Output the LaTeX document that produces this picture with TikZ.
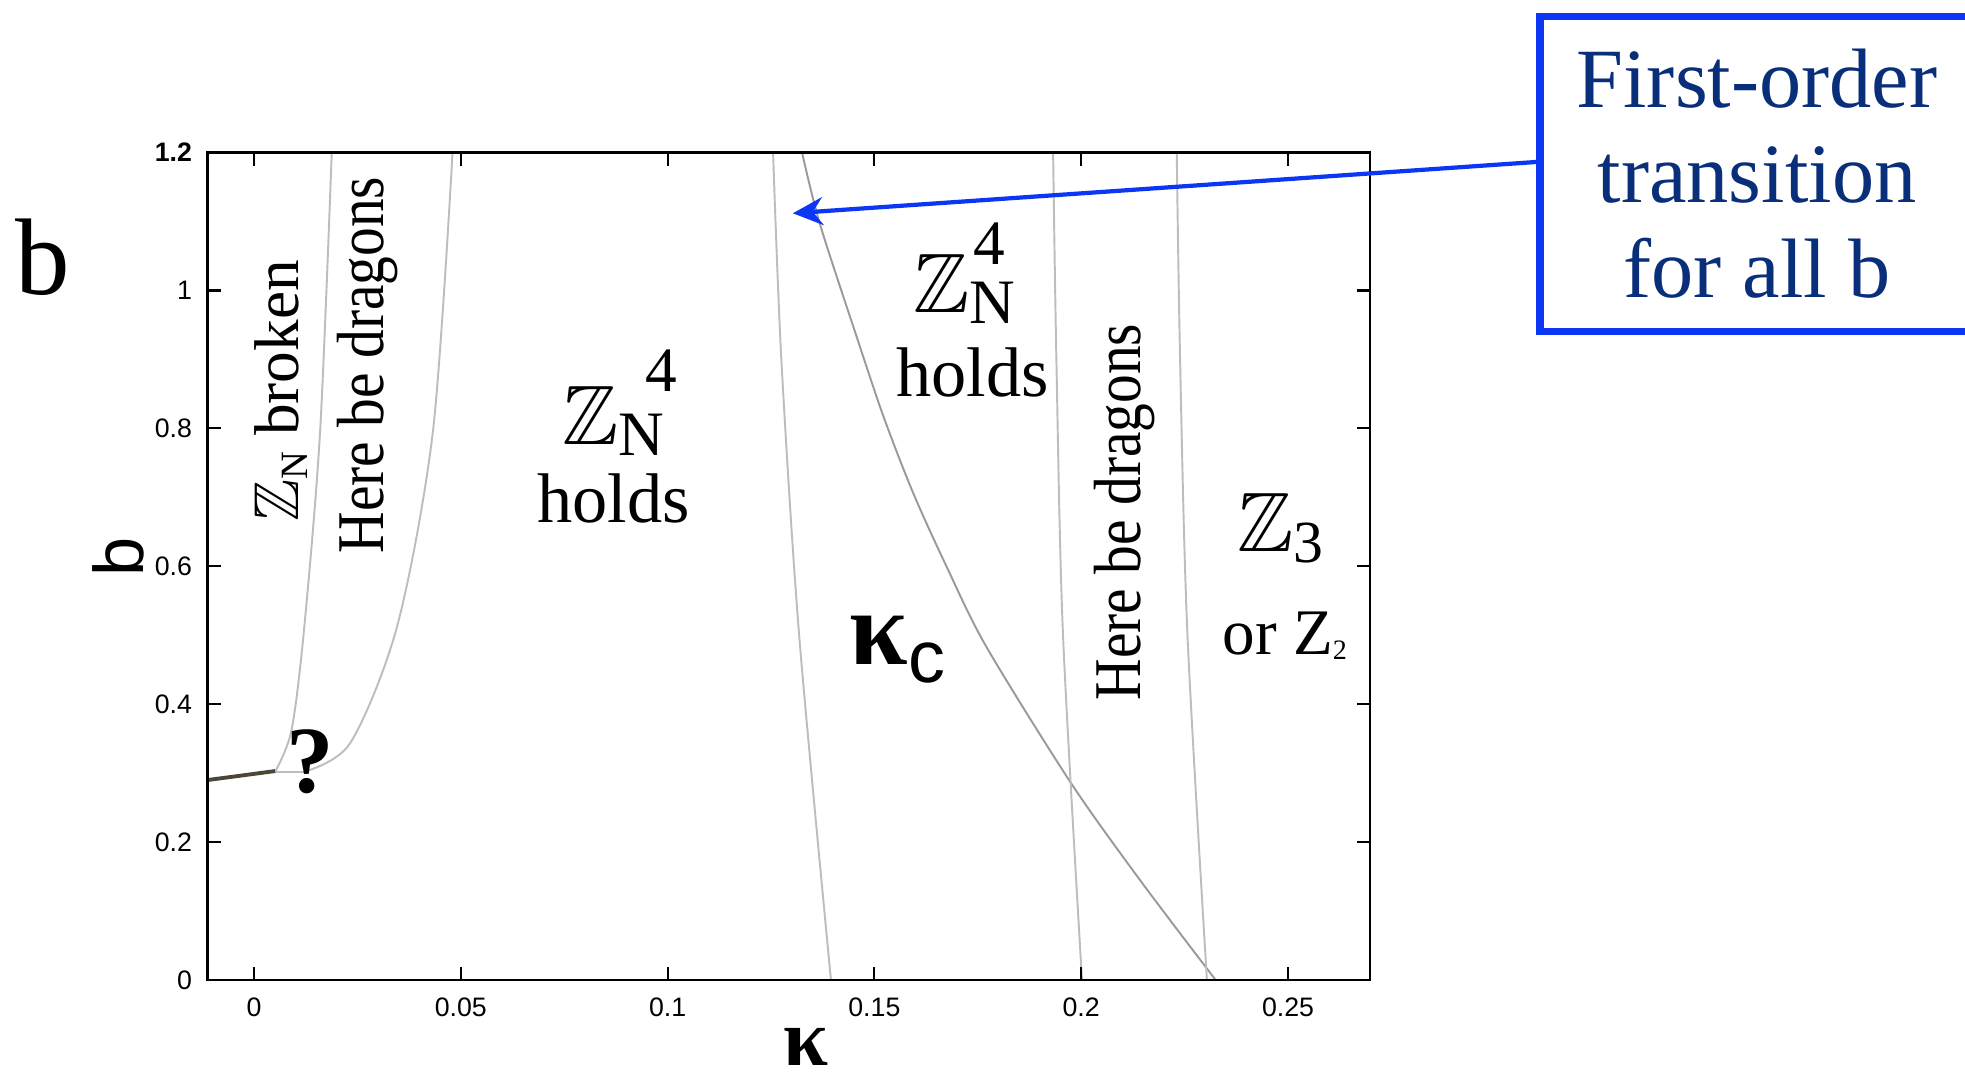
\documentclass[tikz,border=0pt]{standalone}
\usepackage{amsmath,amssymb}
\usepackage{graphicx}
\usepackage{fontspec}
\usetikzlibrary{arrows.meta, positioning, calc}
\newfontfamily\plotserif{Liberation Serif}
\newfontfamily\plotsans{Liberation Sans}
\definecolor{phaseline}{HTML}{BDBDBD}
\definecolor{phaselinedark}{HTML}{9A9A9A}
\definecolor{lineolive}{HTML}{4B4636}
\definecolor{calloutblue}{HTML}{0B36F4}
\definecolor{callouttext}{HTML}{0A2F7A}
\newcommand{\zn}[2]{%
  $\mathbb{Z}$\rlap{\hspace{#1}\raisebox{#2}{\fontsize{18}{18}\selectfont 4}}%
  \raisebox{-1.1mm}{\fontsize{18}{18}\selectfont N}%
}
\newcommand{\dragons}{\scalebox{0.86}[1]{Here be dragons}}

\begin{document}
\begin{tikzpicture}[>=Stealth, node distance=0.18cm,
  frame/.style={draw=black, line width=0.75pt},
  axistick/.style={black, line width=0.6pt},
  ticklabel/.style={font=\plotsans\fontsize{7.6}{8}\selectfont, inner sep=0pt},
  boundary/.style={phaseline, line width=0.55pt},
  phaselabel/.style={font=\plotserif\fontsize{20}{20}\selectfont, inner sep=0pt},
  callout/.style={draw=calloutblue, line width=2.2pt, text=callouttext, align=center,
    font=\plotserif\fontsize{24}{27}\selectfont, inner sep=0pt}]
  \useasboundingbox (0,0) rectangle (19.65,10.8);
  \clip (0,0) rectangle (19.65,10.8);
  \begin{scope}[shift={(2.54cm,1cm)}, x=41.36cm, y=6.895cm]
    \draw[boundary] plot[smooth] coordinates {(0.0051,0.302) (0.0091,0.363) (0.0122,0.515)
      (0.0160,0.798) (0.0188,1.2)};
    \draw[boundary] (0.0051,0.301) -- (0.0115,0.301);
    \draw[boundary] plot[smooth] coordinates {(0.0115,0.301) (0.0232,0.343) (0.0347,0.515)
      (0.0433,0.798) (0.0480,1.2)};
    \draw[lineolive, line width=1.1pt] (-0.0112,0.290) -- (0.0051,0.303);
    \draw[boundary] plot[smooth] coordinates {(0.1255,1.2) (0.1275,0.9) (0.1318,0.5)
      (0.1395,0)};
    \draw[boundary, phaselinedark] plot[smooth] coordinates {(0.1325,1.2) (0.1368,1.097)
      (0.1457,0.933) (0.1522,0.817) (0.1594,0.706) (0.1675,0.599) (0.1771,0.483)
      (0.1975,0.286) (0.2142,0.145) (0.2325,0)};
    \draw[boundary] plot[smooth] coordinates {(0.1932,1.2) (0.1940,0.9) (0.1956,0.5)
      (0.2002,0)};
    \draw[boundary] plot[smooth] coordinates {(0.2231,1.2) (0.2239,0.9) (0.2257,0.5)
      (0.2304,0)};
    \draw[frame] (-0.0112,0) rectangle (0.2698,1.2);
    \foreach \k/\t [count=\i] in {0/0, 0.05/0.05, 0.1/0.1, 0.15/0.15, 0.2/0.2, 0.25/0.25} {
      \draw[axistick] (\k,0) -- ++(0,0.13cm);
      \draw[axistick] (\k,1.2) -- ++(0,-0.13cm);
      \node[ticklabel, yshift=-0.27cm] (xtick\i) at (\k,0) {\t};
    }
    \foreach \b/\t [count=\i] in {0/0, 0.2/0.2, 0.4/0.4, 0.6/0.6, 0.8/0.8, 1/1, 1.2/{\bfseries 1.2}} {
      \draw[axistick] (-0.0112,\b) -- ++(0.13cm,0);
      \draw[axistick] (0.2698,\b) -- ++(-0.13cm,0);
      \node[ticklabel, anchor=east, xshift=-0.15cm] (ytick\i) at (-0.0112,\b) {\t};
    }
    \coordinate (tip) at (0.1303,1.112);
  \end{scope}

  \node[anchor=base, font=\plotserif\fontsize{31}{31}\selectfont, inner sep=0pt] (panelb) at (0.43,7.85) {b};
  \node[rotate=90, font=\plotsans\fontsize{20}{20}\selectfont, inner sep=0pt] (ylabel) at (1.18,5.23) {b};
  \node[font=\plotserif\bfseries\fontsize{23}{23}\selectfont, inner sep=0pt] (xlabel) at (8.06,0.33) {κ};

  \node[phaselabel, rotate=90, anchor=base, font=\plotserif\fontsize{18}{18}\selectfont] (znbroken)
    at (2.98,6.89) {$\mathbb{Z}$\raisebox{-0.9mm}{\fontsize{11}{11}\selectfont N} broken};
  \node[phaselabel, rotate=90, anchor=base, font=\plotserif\fontsize{19}{19}\selectfont] (dragonsleft)
    at (3.83,7.15) {\dragons};
  \node[phaselabel, font=\plotserif\fontsize{24}{24}\selectfont, anchor=base west] (znleft)
    at (5.62,6.35) {\zn{2.7mm}{5.3mm}};
  \node[phaselabel, anchor=base] (holdsleft) at ([yshift=-0.78cm]znleft.base) {holds};
  \node[phaselabel, font=\plotserif\fontsize{24}{24}\selectfont, anchor=base west] (znright)
    at (9.13,7.67) {\zn{0.4mm}{4.8mm}};
  \node[phaselabel, anchor=base] (holdsright) at ([xshift=0.08cm, yshift=-0.84cm]znright.base) {holds};
  \node[phaselabel, anchor=base west, inner sep=0pt] (kappac) at (8.49,4.15)
    {{\bfseries\fontsize{30}{30}\selectfont κ}\raisebox{-1.8mm}{\plotsans\fontsize{21}{21}\selectfont c}};
  \node[phaselabel, rotate=90, anchor=base, font=\plotserif\fontsize{19}{19}\selectfont] (dragonsright)
    at (11.40,5.68) {\dragons};
  \node[phaselabel, font=\plotserif\fontsize{24}{24}\selectfont, anchor=base west] (zthree)
    at (12.37,5.28) {$\mathbb{Z}$\raisebox{-1.1mm}{\fontsize{17}{17}\selectfont 3}};
  \node[phaselabel, font=\plotserif\fontsize{18.5}{18.5}\selectfont, anchor=base west] (ztwo)
    at (12.22,4.25) {or Z\raisebox{-0.5mm}{\fontsize{8}{8}\selectfont 2}};
  \node[phaselabel, font=\plotserif\bfseries\fontsize{27}{27}\selectfont] (unknown) at (3.10,3.18) {?};

  \node[callout, minimum width=4.34cm, minimum height=3.15cm] (callout) at (17.57,9.06)
    {First-order\\transition\\for all b};
  \draw[->, calloutblue, line width=1.2pt, >={Stealth[length=3mm, width=2.8mm, inset=1mm]}]
    ([yshift=0.12cm]callout.west) -- (tip);
\end{tikzpicture}
\end{document}
